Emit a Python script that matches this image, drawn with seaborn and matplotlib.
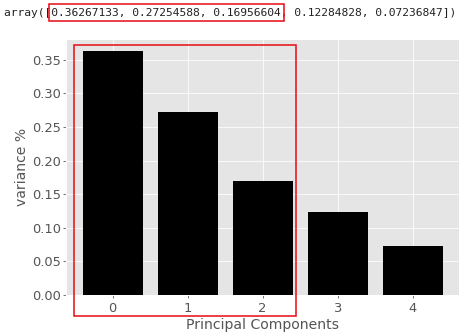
import matplotlib
matplotlib.use("Agg")
import matplotlib.pyplot as plt
import seaborn as sns
import pandas as pd
from matplotlib.patches import Rectangle

components = [0, 1, 2, 3, 4]
variance = [0.36267133, 0.27254588, 0.16956604, 0.12284828, 0.07236847]
array_text = "array([0.36267133, 0.27254588, 0.16956604, 0.12284828, 0.07236847])"

plt.style.use("ggplot")
W, H = 466, 336
fig = plt.figure(figsize=(W / 72, H / 72), dpi=72, facecolor="white")
ax = fig.add_axes([66 / W, 1 - 295 / H, (459 - 66) / W, (295 - 39) / H])

df = pd.DataFrame({"pc": components, "var": variance})
sns.barplot(data=df, x="pc", y="var", color="black", saturation=1, width=0.8, ax=ax)
for p in ax.patches:
    p.set_edgecolor("none")
ax.set_xlim(-0.62, 4.62)
ax.set_ylim(0, max(variance) * 1.05)
ax.grid(True, axis="both", color="white")
ax.set_axisbelow(True)
ax.set_yticks([0, 0.05, 0.10, 0.15, 0.20, 0.25, 0.30, 0.35])
ax.set_yticklabels([f"{v:.2f}" for v in ax.get_yticks()])
ax.set_xlabel("Principal Components", color="#555555", fontsize=14, labelpad=3)
ax.set_ylabel("variance %", color="#555555", fontsize=14, labelpad=3)
ax.tick_params(labelsize=13, colors="#555555", length=3, pad=2)
ax.tick_params(axis="x", pad=4)

fig.text(4 / W, 1 - 12.5 / H, array_text, family="DejaVu Sans Mono", fontsize=11.3,
         va="center", ha="left", color="#222222")

def px_rect(x0, y0, x1, y1):
    fig.patches.append(Rectangle((x0 / W, 1 - y1 / H), (x1 - x0) / W, (y1 - y0) / H,
                                 transform=fig.transFigure, fill=False,
                                 edgecolor="#e8141c", linewidth=1.6, zorder=10))

px_rect(49, 4, 284, 21)
px_rect(74, 45, 296, 316)

fig.savefig("out.png", dpi=72, facecolor="white")
